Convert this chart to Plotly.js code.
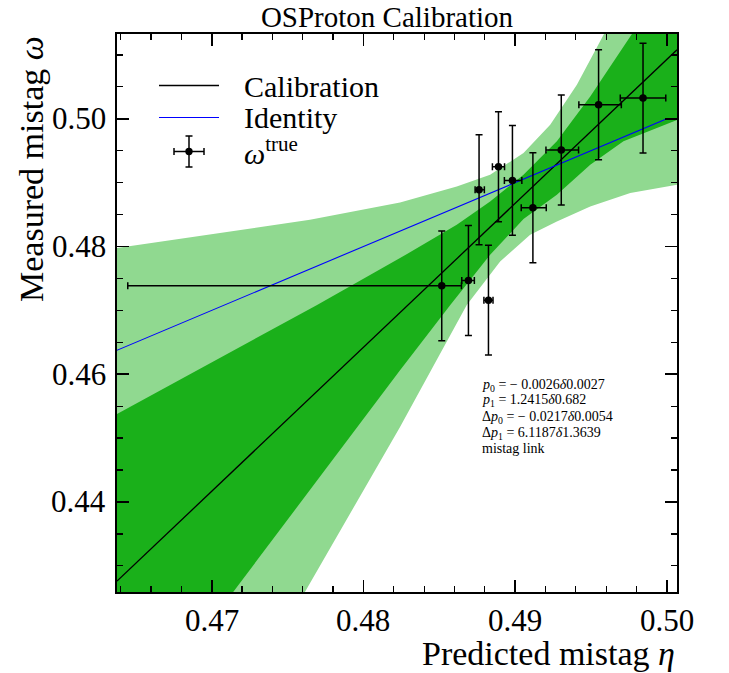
<!DOCTYPE html>
<html>
<head>
<meta charset="utf-8">
<script src="https://cdn.plot.ly/plotly-3.0.1.min.js"></script>
<style>html,body{margin:0;padding:0;background:#fff;}</style>
</head>
<body>
<div id="chart" style="width:729px;height:673px;"></div>
<script>
// ---- data ----
const etaData      = [0.48516, 0.48692, 0.48824, 0.48762, 0.48890, 0.48982, 0.49117, 0.49304, 0.49550, 0.49843];
const omegaData    = [0.47384, 0.47468, 0.47160, 0.48888, 0.49248, 0.49035, 0.48606, 0.49510, 0.50219, 0.50324];
const etaErrMinus  = [0.0207, 0.00044, 0.0003, 0.00026, 0.0004, 0.00053, 0.00077, 0.00101, 0.0013, 0.0015];
const etaErrPlus   = [0.0013, 0.00039, 0.0003, 0.00035, 0.0004, 0.00062, 0.00088, 0.00114, 0.0015, 0.0015];
const omegaErr     = [0.0086, 0.0086, 0.0086, 0.0086, 0.0086, 0.0086, 0.0086, 0.0086, 0.0086, 0.0086];

const calEta   = [0.46375, 0.50067];
const calOmega = [0.4276, 0.5108];
const idEta    = [0.4637, 0.5000];
const idOmega  = [0.4637, 0.5000];

// 2 sigma band (light)
const outerUpEta   = [0.4637, 0.46987, 0.47647, 0.48241, 0.48615, 0.48835, 0.49055, 0.49231, 0.49407, 0.49583, 0.4975, 0.5007];
const outerUpOmega = [0.47974, 0.48183, 0.48418, 0.48690, 0.48941, 0.49123, 0.49463, 0.49906, 0.50533, 0.51316, 0.5210, 0.5350];
const outerLoEta   = [0.5007, 0.49759, 0.49495, 0.49275, 0.49099, 0.48901, 0.48681, 0.48241, 0.47614, 0.4700, 0.4637];
const outerLoOmega = [0.48966, 0.48836, 0.48628, 0.48393, 0.48183, 0.47766, 0.47084, 0.45175, 0.42590, 0.4006, 0.3900];
// 1 sigma band (dark)
const innerUpEta   = [0.4637, 0.47691, 0.48241, 0.48615, 0.48835, 0.49055, 0.49275, 0.49495, 0.49770, 0.5007];
const innerUpOmega = [0.45369, 0.47081, 0.47818, 0.48339, 0.48706, 0.49123, 0.49646, 0.50350, 0.51327, 0.5250];
const innerLoEta   = [0.5007, 0.49714, 0.49495, 0.49275, 0.49055, 0.48835, 0.48571, 0.48241, 0.47141, 0.4637];
const innerLoOmega = [0.49984, 0.49646, 0.49279, 0.48809, 0.48430, 0.47869, 0.47081, 0.46063, 0.42590, 0.4015];

const xTickVals = [0.47, 0.48, 0.49, 0.50];
const xTickText = ['0.47', '0.48', '0.49', '0.50'];
const yTickVals = [0.44, 0.46, 0.48, 0.50];
const yTickText = ['0.44', '0.46', '0.48', '0.50'];

const titleText = 'OSProton Calibration';
const xTitle = 'Predicted mistag <i>η</i>';
const yTitle = 'Measured mistag <i>ω</i>';
const legendLabels = ['Calibration', 'Identity', '<i>ω</i><sup>true</sup>'];
const infoLines = [
  '<i>p</i><sub>0</sub> = − 0.0026<i>δ</i>0.0027',
  '<i>p</i><sub>1</sub> = 1.2415<i>δ</i>0.682',
  'Δ<i>p</i><sub>0</sub> = − 0.0217<i>δ</i>0.0054',
  'Δ<i>p</i><sub>1</sub> = 6.1187<i>δ</i>1.3639',
  'mistag link'
];

// ---- styling / layout ----
const W = 729, H = 673;
const M = {l: 117, r: 52, t: 34, b: 81};
const PW = W - M.l - M.r, PH = H - M.t - M.b;
const px = x => (x - M.l) / PW;          // pixel -> paper x
const py = y => (H - M.b - y) / PH;      // pixel -> paper y
const serif = 'Liberation Serif';
const DARK = 'rgb(26,176,26)';
const LIGHT = 'rgb(144,217,144)';

const traces = [
  {x: outerUpEta.concat(outerLoEta), y: outerUpOmega.concat(outerLoOmega),
   type: 'scatter', mode: 'lines', fill: 'toself', fillcolor: LIGHT,
   line: {width: 0, color: LIGHT}, hoverinfo: 'skip', showlegend: false},
  {x: innerUpEta.concat(innerLoEta), y: innerUpOmega.concat(innerLoOmega),
   type: 'scatter', mode: 'lines', fill: 'toself', fillcolor: DARK,
   line: {width: 0, color: DARK}, hoverinfo: 'skip', showlegend: false},
  {x: calEta, y: calOmega, type: 'scatter', mode: 'lines', name: 'Calibration',
   line: {color: 'black', width: 1.3}, showlegend: false},
  {x: idEta, y: idOmega, type: 'scatter', mode: 'lines', name: 'Identity',
   line: {color: 'rgb(0,0,255)', width: 1.1}, showlegend: false},
  {x: etaData, y: omegaData, type: 'scatter', mode: 'markers', name: 'ω true',
   marker: {color: 'black', size: 7.5},
   error_x: {type: 'data', symmetric: false, array: etaErrPlus, arrayminus: etaErrMinus,
             color: 'black', thickness: 1.5, width: 3.5},
   error_y: {type: 'data', array: omegaErr, color: 'black', thickness: 1.5, width: 3.5},
   showlegend: false}
];

function axisStyle(extra) {
  return Object.assign({
    showgrid: false, zeroline: false, showline: true, linecolor: 'black', linewidth: 2,
    mirror: 'ticks', ticks: 'inside', ticklen: 12, tickwidth: 1.5, tickcolor: 'black',
    showticklabels: false
  }, extra);
}

const F = (size) => ({family: serif, size: size, color: 'black'});
const infoY = [385, 401, 417, 433, 448.5];
const annotations = [
  {text: legendLabels[0], xref: 'paper', yref: 'paper', x: px(242), y: py(86), xanchor: 'left', yanchor: 'middle',
   showarrow: false, font: F(30)},
  {text: legendLabels[1], xref: 'paper', yref: 'paper', x: px(242), y: py(118), xanchor: 'left', yanchor: 'middle',
   showarrow: false, font: F(30)},
  {text: legendLabels[2], xref: 'paper', yref: 'paper', x: px(242), y: py(151), xanchor: 'left', yanchor: 'middle',
   showarrow: false, font: F(30)},
  {text: xTitle, xref: 'paper', yref: 'paper', x: 1, y: py(653), xanchor: 'right', yanchor: 'middle',
   showarrow: false, font: F(34)},
  {text: yTitle, xref: 'paper', yref: 'paper', x: px(31), y: py(34), xanchor: 'center', yanchor: 'top',
   textangle: -90, showarrow: false, font: F(34)}
];
infoLines.forEach((t, i) => annotations.push({
  text: t, xref: 'paper', yref: 'paper', x: px(480), y: py(infoY[i]), xanchor: 'left', yanchor: 'middle',
  align: 'left', showarrow: false, font: F(14)
}));
// axis tick labels, placed on the axes' own data coordinates
xTickVals.forEach((v, i) => annotations.push({
  text: xTickText[i], xref: 'x', yref: 'paper', x: v, y: py(620), xanchor: 'center', yanchor: 'middle',
  showarrow: false, font: F(31)
}));
yTickVals.forEach((v, i) => annotations.push({
  text: yTickText[i], xref: 'paper', yref: 'y', x: px(108), y: v, xanchor: 'right', yanchor: 'middle',
  showarrow: false, font: F(31)
}));

const layout = {
  width: W, height: H, margin: M,
  font: {family: serif, color: 'black'},
  paper_bgcolor: 'white', plot_bgcolor: 'white', showlegend: false,
  title: {text: titleText, xref: 'container', x: 387 / W, xanchor: 'center', yref: 'container', y: 1 - 17 / H, yanchor: 'middle',
          font: F(29)},
  xaxis: axisStyle({
    range: [0.46375, 0.50067], tickvals: xTickVals,
    minor: {ticks: 'inside', ticklen: 6, tickwidth: 1.3, tickcolor: 'black', dtick: 0.002, tick0: 0}
  }),
  yaxis: axisStyle({
    range: [0.4259, 0.51327], tickvals: yTickVals,
    minor: {ticks: 'inside', ticklen: 6, tickwidth: 1.3, tickcolor: 'black', dtick: 0.005, tick0: 0}
  }),
  shapes: [
    {type: 'line', xref: 'paper', yref: 'paper', x0: px(159), x1: px(219), y0: py(85.5), y1: py(85.5),
     line: {color: 'black', width: 1.3}},
    {type: 'line', xref: 'paper', yref: 'paper', x0: px(159), x1: px(219), y0: py(117.5), y1: py(117.5),
     line: {color: 'rgb(0,0,255)', width: 1.1}},
    {type: 'line', xref: 'paper', yref: 'paper', x0: px(189), x1: px(189), y0: py(136), y1: py(167),
     line: {color: 'black', width: 1.5}},
    {type: 'line', xref: 'paper', yref: 'paper', x0: px(174), x1: px(204), y0: py(151.5), y1: py(151.5),
     line: {color: 'black', width: 1.5}},
    {type: 'line', xref: 'paper', yref: 'paper', x0: px(185.5), x1: px(192.5), y0: py(136), y1: py(136),
     line: {color: 'black', width: 1.5}},
    {type: 'line', xref: 'paper', yref: 'paper', x0: px(185.5), x1: px(192.5), y0: py(167), y1: py(167),
     line: {color: 'black', width: 1.5}},
    {type: 'line', xref: 'paper', yref: 'paper', x0: px(174), x1: px(174), y0: py(148), y1: py(155),
     line: {color: 'black', width: 1.5}},
    {type: 'line', xref: 'paper', yref: 'paper', x0: px(204), x1: px(204), y0: py(148), y1: py(155),
     line: {color: 'black', width: 1.5}},
    {type: 'circle', xref: 'paper', yref: 'paper', x0: px(185.3), x1: px(192.7), y0: py(155.2), y1: py(147.8),
     fillcolor: 'black', line: {color: 'black', width: 0}}
  ],
  annotations: annotations
};

Plotly.newPlot('chart', traces, layout, {displayModeBar: false, staticPlot: true});
</script>
</body>
</html>
